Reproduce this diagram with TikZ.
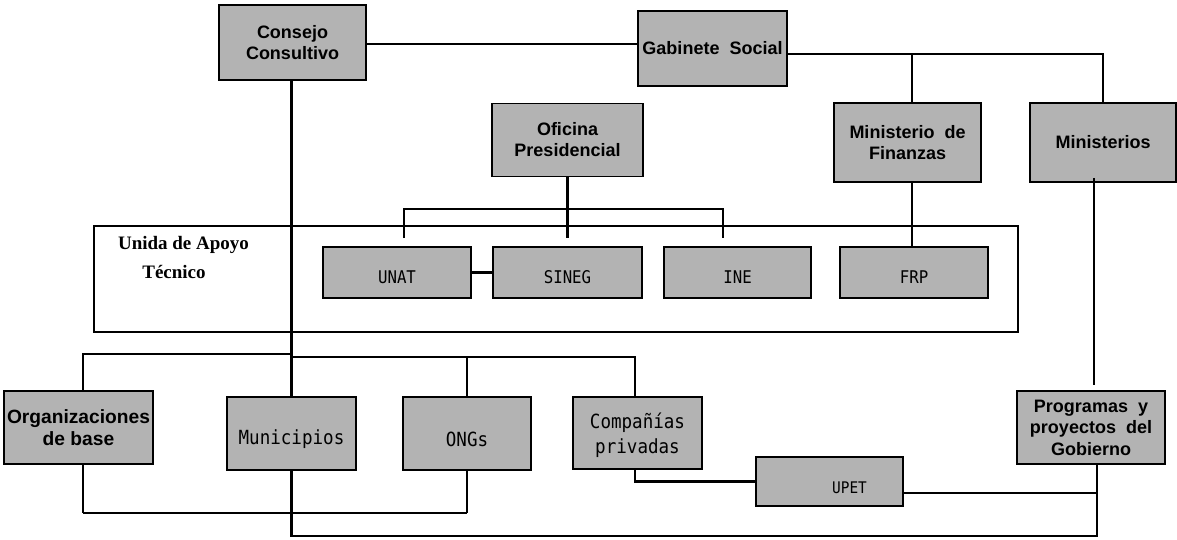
\documentclass[tikz,border=0pt]{standalone}
\usepackage{fontspec}
\setmainfont{Liberation Sans}
\newfontfamily\monof[FakeStretch=0.9]{DejaVu Sans Mono}
\newfontfamily\serf{Liberation Serif}
\definecolor{boxgray}{RGB}{179,179,179}
\newcommand{\dn}[2]{\raisebox{-#1pt}[\height][\depth]{#2}}
\begin{document}
\begin{tikzpicture}[x=1pt,y=-1pt,
  box/.style={draw=black, line width=1.5pt, fill=boxgray, inner sep=0pt, align=center,
              font=\bfseries\fontsize{18}{21}\selectfont},
  mbox/.style={box, font=\monof\fontsize{17.5}{24}\selectfont},
  lmbox/.style={box, font=\monof\fontsize{19.5}{25}\selectfont},
  conn/.style={draw=black, line width=2.9pt},
  conn2/.style={draw=black, line width=2.4pt},
  midline/.style={draw=black, line width=2pt},
  thinline/.style={draw=black, line width=1.4pt},
  frame/.style={draw=black, line width=2.2pt, inner sep=0pt},
  lbl/.style={inner sep=0pt, font=\serf\bfseries\fontsize{19}{22}\selectfont}]
\useasboundingbox (0,0) rectangle (1177,539);

% top row
\node[box, minimum width=147pt, minimum height=75pt] (cc) at (292.5,42.5) {Consejo\\Consultivo};
\node[box, minimum width=149pt, minimum height=75pt] (gs) at (712.5,48.5) {Gabinete~ Social};
\node[box, minimum width=151pt, minimum height=73pt] (of) at (567.5,140) {Oficina\\Presidencial};
\node[box, minimum width=147pt, minimum height=79pt] (mf) at (907.5,142.5) {Ministerio~ de\\Finanzas};
\node[box, minimum width=146pt, minimum height=79pt] (mm) at (1103,142.5) {Ministerios};

% support unit frame
\node[frame, minimum width=924pt, minimum height=106pt] (ap) at (556,279) {};
\node[lbl] (t1) at (183.5,245) {Unida de Apoyo};
\node[lbl] (t2) at (174,272) {Técnico};
\node[mbox, minimum width=148pt, minimum height=51pt] (un) at (397,272.5) {\dn{4.5}{UNAT}};
\node[mbox, minimum width=149pt, minimum height=51pt] (sn) at (567.5,272.5) {\dn{4.5}{SINEG}};
\node[mbox, minimum width=147pt, minimum height=51pt] (ine) at (737.5,272.5) {\dn{4.5}{INE}};
\node[mbox, minimum width=148pt, minimum height=51pt] (frp) at (914,272.5) {\dn{4.5}{FRP}};

% bottom row
\node[box, minimum width=149pt, minimum height=73pt, font=\bfseries\fontsize{19.2}{22}\selectfont] (og) at (78.5,427.5) {Organizaciones\\de base};
\node[lmbox, minimum width=129pt, minimum height=73pt] (mu) at (291.5,433.5) {\dn{6}{Municipios}};
\node[lmbox, minimum width=128pt, minimum height=73pt] (ng) at (467,433.5) {\dn{6}{ONGs}};
\node[lmbox, minimum width=129pt, minimum height=72pt] (cp) at (637.5,433) {\dn{2}{\shortstack{Compañías\\[3pt]privadas}}};
\node[mbox, minimum width=147pt, minimum height=49pt, font=\monof\fontsize{16}{20}\selectfont] (up) at (829.5,481.5) {\hspace*{40pt}\dn{6}{UPET}};
\node[box, minimum width=148pt, minimum height=73pt, font=\bfseries\fontsize{18}{21.5}\selectfont] (pg) at (1091,427.5) {Programas~ y\\proyectos~ del\\Gobierno};

% helper coordinates
\coordinate (gj) at (912,54);
\coordinate (brk) at (0,209);
\coordinate (bend) at (0,238);
\coordinate (by1) at (0,354);
\coordinate (by2) at (0,357);
\coordinate (ybot1) at (0,513);
\coordinate (ybot2) at (0,536);
\coordinate (yupet) at (0,493);
\coordinate (xr) at (1097,0);

% connectors top
\draw[conn] ([yshift=-1.5pt]cc.east) -- ([yshift=-1.5pt]cc.east -| gs.west);
\draw[conn] ([yshift=-5.5pt]gs.east) -| (mm.north);
\draw[conn] (gj) -- (gj |- mf.north);
\draw[conn] (gj |- mf.south) -- (gj |- frp.north);
\draw[thinline] ([xshift=-9pt,yshift=5pt]mm.south) -- ([xshift=3pt,yshift=5pt]pg.north);

% Oficina bracket
\draw[conn2] (of.south) -- (of.south |- bend);
\draw[conn2] ([xshift=7pt]un.north |- bend) -- ([xshift=7pt]un.north |- brk) -- ([xshift=-14.5pt]ine.north |- brk) -- ([xshift=-14.5pt]ine.north |- bend);
\draw[conn] (un.east) -- (sn.west);

% Consejo down
\draw[conn] ([xshift=-1pt]cc.south) -- (mu.north);
\draw[conn] ([xshift=-1pt]cc.south |- by1) -| ([xshift=4.5pt]og.north);
\draw[conn] ([xshift=-1pt]cc.south |- by2) -| ([xshift=-2.5pt]cp.north);
\draw[conn] (ng.north |- by2) -- (ng.north);

% bottom connectors
\draw[conn] ([xshift=4.5pt]og.south) -- ([xshift=4.5pt]og.south |- ybot1);
\draw[thinline] ([xshift=4.5pt]og.south |- ybot1) -- (ng.south |- ybot1);
\draw[conn] (ng.south) -- (ng.south |- ybot1);
\draw[conn] (mu.south) -- (mu.south |- ybot2) -- (xr |- ybot2) -- (xr |- pg.south);
\draw[conn] ([xshift=-2.5pt]cp.south) |- (up.west);
\draw[midline] (up.east |- yupet) -- (xr |- yupet);
\end{tikzpicture}
\end{document}
